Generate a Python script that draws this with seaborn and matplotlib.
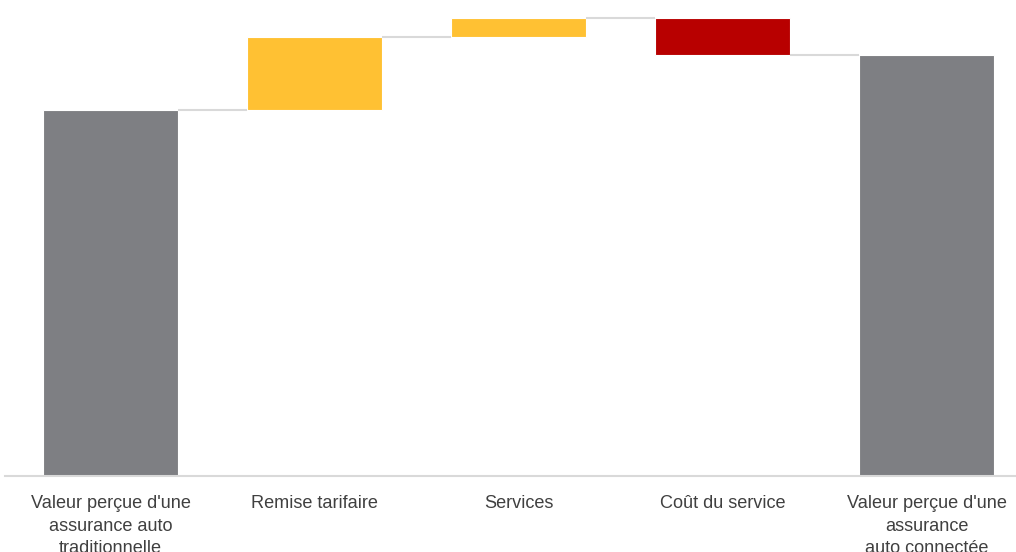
import matplotlib
matplotlib.use("Agg")
import matplotlib.pyplot as plt
import seaborn as sns
import pandas as pd
import numpy as np

categories = ["Valeur perçue d'une\nassurance auto\ntraditionnelle",
              "Remise tarifaire",
              "Services",
              "Coût du service",
              "Valeur perçue d'une\nassurance\nauto connectée"]
changes = [100.0, 20.0, 5.2, -10.1]
kinds = ["total", "up", "up", "down", "total"]
colors_map = {"total": "#7E7F83", "up": "#FFC133", "down": "#B80000"}

# waterfall computation
levels = np.cumsum(changes)
final = levels[-1]
bottoms = [0.0, levels[0], levels[1], levels[3]]
heights = [changes[0], changes[1], changes[2], -changes[3]]
bottoms.append(0.0)
heights.append(final)
df = pd.DataFrame({"cat": categories, "height": heights, "bottom": bottoms, "kind": kinds})

sns.set_theme(style="white")
plt.rcParams['font.family'] = ['Liberation Sans', 'DejaVu Sans']

fig = plt.figure(figsize=(10.16, 5.52), dpi=100)
ax = fig.add_axes([5/1016, (552-476)/552, 1011/1016, 476/552])

width = 0.66
sns.barplot(data=df, x="cat", y="height", bottom=df["bottom"].values, width=width,
            errorbar=None, ax=ax, color="#7E7F83", edgecolor="white", linewidth=0.8)
for patch, k in zip(ax.patches, df["kind"]):
    patch.set_facecolor(colors_map[k])

# connectors
conn_levels = [levels[0], levels[1], levels[2], levels[3]]
for i, lv in enumerate(conn_levels):
    ax.hlines(lv, i + width/2, i + 1 - width/2, color="#D9D9D9", linewidth=1.5, zorder=1)

ax.set_xlim((5-110.5)/204, (1016-110.5)/204)
ax.set_ylim(0, 476/3.66)
ax.set_xlabel("")
ax.set_ylabel("")
ax.set_yticks([])
ax.tick_params(axis="x", length=0, pad=14, labelsize=13.1, labelcolor="#404040")
for lbl in ax.get_xticklabels():
    lbl.set_linespacing(1.42)
for s in ["top", "right", "left"]:
    ax.spines[s].set_visible(False)
ax.spines["bottom"].set_color("#D9D9D9")
ax.spines["bottom"].set_linewidth(1.5)

fig.savefig("out.png", dpi=100)
